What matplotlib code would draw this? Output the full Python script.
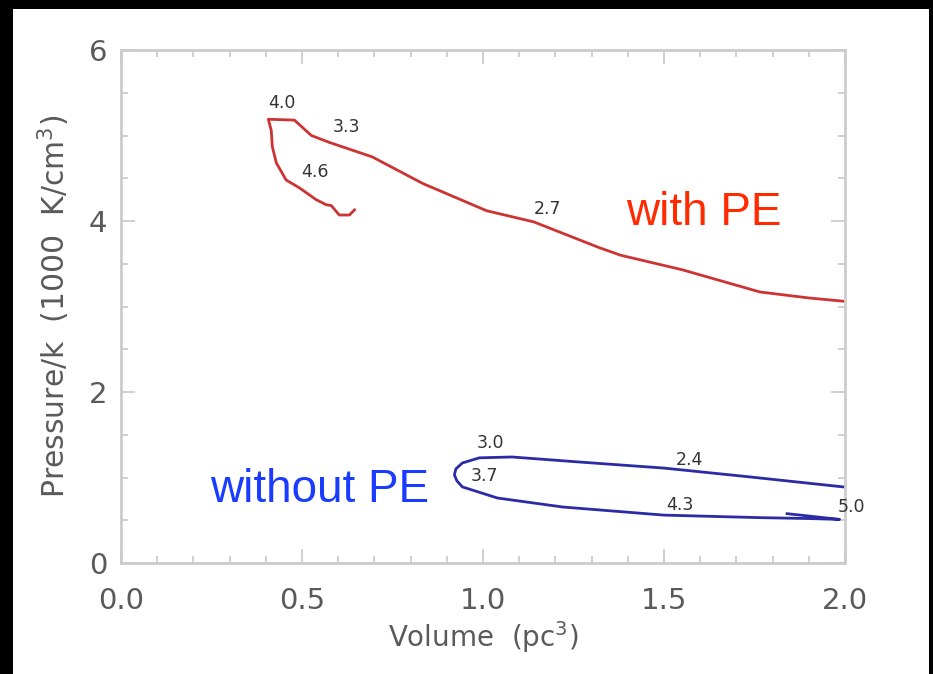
import matplotlib
matplotlib.use("Agg")

import matplotlib.pyplot as plt
import matplotlib.patches as mpatches
from matplotlib.ticker import MultipleLocator


###------------------------data----------------------------###
# with PE: starts at large volume, runs left to the corner, then back down
red_vol = [2.00, 1.90, 1.765, 1.55, 1.38, 1.32, 1.14, 1.01, 0.833, 0.694,
           0.575, 0.526, 0.479, 0.407, 0.415, 0.418, 0.429, 0.456, 0.492,
           0.539, 0.567, 0.581, 0.603, 0.631, 0.645]
red_p = [3.06, 3.10, 3.17, 3.43, 3.60, 3.69, 3.99, 4.12, 4.44, 4.75,
         4.92, 5.00, 5.18, 5.19, 5.06, 4.87, 4.68, 4.48, 4.39,
         4.25, 4.19, 4.18, 4.07, 4.07, 4.13]

# without PE: upper branch leftwards, round the tip, lower branch rightwards
blue_vol = [1.995, 1.73, 1.50, 1.27, 1.08, 0.99, 0.943, 0.925, 0.921, 0.928,
            0.943, 1.04, 1.22, 1.50, 1.77, 1.90, 1.985, 1.84]
blue_p = [0.89, 1.01, 1.11, 1.18, 1.24, 1.23, 1.17, 1.10, 1.03, 0.96,
          0.89, 0.76, 0.655, 0.56, 0.53, 0.52, 0.51, 0.577]

red_marks = [("4.0", 0.445, 5.38), ("3.3", 0.622, 5.10),
             ("4.6", 0.537, 4.57), ("2.7", 1.178, 4.14)]
blue_marks = [("3.0", 1.021, 1.40), ("3.7", 1.004, 1.02), ("2.4", 1.571, 1.21),
              ("4.3", 1.543, 0.68), ("5.0", 2.017, 0.655)]

x_ticks = [0.0, 0.5, 1.0, 1.5, 2.0]
y_ticks = [0, 2, 4, 6]

###------------------------figure--------------------------###
fig = plt.figure(figsize=(9.33, 6.74), dpi=100, facecolor="black")
fig.patches.append(mpatches.Rectangle((13 / 933, 0), 916 / 933, 665 / 674,
                                      transform=fig.transFigure,
                                      facecolor="white", edgecolor="none",
                                      zorder=-10))

ax = fig.add_axes([121 / 933, 111 / 674, 724 / 933, 513 / 674])
ax.set_facecolor("white")

ax.plot(red_vol, red_p, color="#cc3333", lw=2.0, solid_joinstyle="round")
ax.plot(blue_vol, blue_p, color="#2b2ba6", lw=2.0, solid_joinstyle="round")

for txt, x, y in red_marks + blue_marks:
    ax.text(x, y, txt, fontsize=12.5, color="#333333", ha="center", va="center")

ax.text(1.61, 3.95, "with PE", fontsize=33, color="#ff2a00",
        family="Liberation Sans", ha="center", va="baseline")
ax.text(0.549, 0.71, "without PE", fontsize=33, color="#1a3cff",
        family="Liberation Sans", ha="center", va="baseline")

###------------------------axes----------------------------###
ax.set_xlim(0, 2)
ax.set_ylim(0, 6)
ax.set_xticks(x_ticks)
ax.set_xticklabels([f"{v:.1f}" for v in x_ticks])
ax.set_yticks(y_ticks)
ax.xaxis.set_minor_locator(MultipleLocator(0.1))
ax.yaxis.set_minor_locator(MultipleLocator(0.5))

for s in ax.spines.values():
    s.set_color("#cccccc")
    s.set_linewidth(2)

ax.tick_params(which="both", direction="in", top=True, right=True,
               color="#c8c8c8", width=1.2, labelcolor="#5a5a5a", labelsize=21)
ax.tick_params(which="major", length=10)
ax.tick_params(which="minor", length=5)
ax.tick_params(axis="x", which="major", pad=17)
ax.tick_params(axis="y", which="major", pad=10)

ax.set_xlabel("Volume  (pc$^3$)", fontsize=20, color="#5a5a5a", labelpad=3)
ax.set_ylabel("Pressure/k  (1000  K/cm$^3$)", fontsize=21.5, color="#5a5a5a",
              labelpad=12)

plt.savefig("out.png", dpi=100, facecolor="black")
